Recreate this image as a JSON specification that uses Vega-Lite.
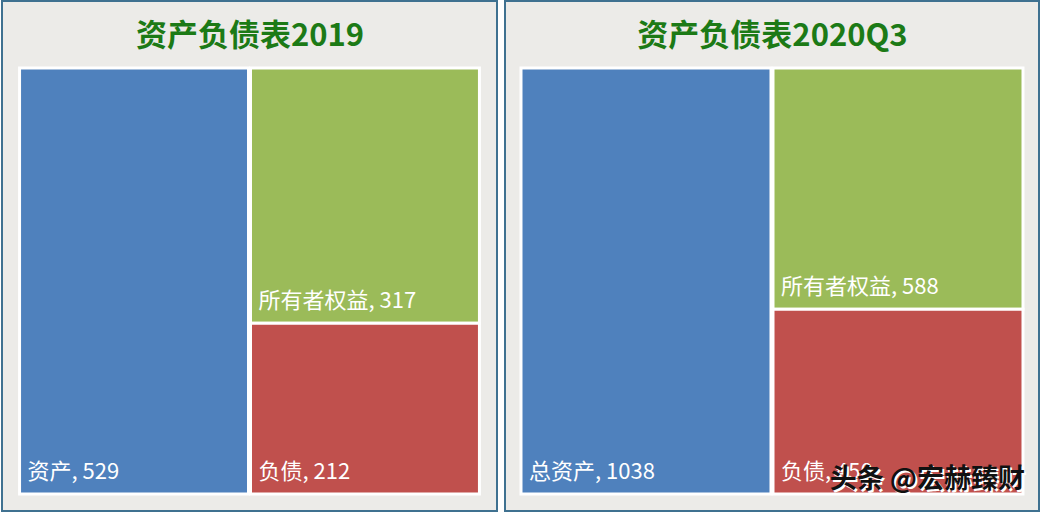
{
  "$schema": "https://vega.github.io/schema/vega-lite/v6.json",
  "padding": {"left": 1, "top": 0, "right": 1, "bottom": 1},
  "background": "#ffffff",
  "config": {
    "view": {"fill": "#ecebe8", "stroke": "#3f7190", "strokeWidth": 2},
    "font": "Noto Sans CJK SC",
    "concat": {"spacing": 6}
  },
  "datasets": {
    "bs": [
      {"panel": "2019", "column": "资产", "name": "资产", "type": "资产", "value": 529},
      {"panel": "2019", "column": "负债和权益", "name": "所有者权益", "type": "所有者权益", "value": 317},
      {"panel": "2019", "column": "负债和权益", "name": "负债", "type": "负债", "value": 212},
      {"panel": "2020Q3", "column": "资产", "name": "总资产", "type": "资产", "value": 1038},
      {"panel": "2020Q3", "column": "负债和权益", "name": "所有者权益", "type": "所有者权益", "value": 588},
      {"panel": "2020Q3", "column": "负债和权益", "name": "负债", "type": "负债", "value": 450}
    ]
  },
  "hconcat": [
    {
      "width": 495,
      "height": 510,
      "data": {"name": "bs"},
      "transform": [
        {"filter": "datum.panel === '2019'"},
        {"stack": "value", "groupby": ["column"], "offset": "normalize", "sort": [{"field": "type", "order": "descending"}], "as": ["v0", "v1"]},
        {"calculate": "datum.name + ', ' + datum.value", "as": "label"}
      ],
      "encoding": {
        "x": {
          "field": "column", "type": "nominal", "sort": ["资产", "负债和权益"],
          "scale": {"paddingInner": 0.0087, "paddingOuter": 0.076},
          "axis": {"orient": "top", "labels": false, "ticks": false, "domain": false, "grid": false, "title": "资产负债表2019", "titleFontSize": 31, "titleFontWeight": "bold", "titleColor": "#1c7a16", "titleFont": "Noto Sans CJK SC", "titleBaseline": "middle", "titleAnchor": "middle", "titleY": 35, "titlePadding": 0}
        }
      },
      "layer": [
        {
          "mark": {"type": "bar", "stroke": "white", "strokeWidth": 3},
          "encoding": {
            "y": {"field": "v0", "type": "quantitative", "axis": null, "scale": {"domain": [-0.0399, 1.1573], "nice": false, "zero": false}},
            "y2": {"field": "v1"},
            "color": {"field": "type", "type": "nominal", "legend": null, "scale": {"domain": ["资产", "所有者权益", "负债"], "range": ["#4f81bd", "#9bbb59", "#c0504d"]}}
          }
        },
        {
          "mark": {"type": "text", "align": "left", "baseline": "alphabetic", "dx": 8, "dy": -15, "fontSize": 22, "color": "white"},
          "encoding": {
            "x": {"field": "column", "type": "nominal", "bandPosition": 0},
            "y": {"field": "v0", "type": "quantitative"},
            "text": {"field": "label"}
          }
        }
      ]
    },
    {
      "width": 534,
      "height": 510,
      "data": {"name": "bs"},
      "transform": [
        {"filter": "datum.panel === '2020Q3'"},
        {"stack": "value", "groupby": ["column"], "offset": "normalize", "sort": [{"field": "type", "order": "descending"}], "as": ["v0", "v1"]},
        {"calculate": "datum.name + ', ' + datum.value", "as": "label"}
      ],
      "encoding": {
        "x": {
          "field": "column", "type": "nominal", "sort": ["资产", "负债和权益"],
          "scale": {"paddingInner": 0.008, "paddingOuter": 0.0635},
          "axis": {"orient": "top", "labels": false, "ticks": false, "domain": false, "grid": false, "title": "资产负债表2020Q3", "titleFontSize": 31, "titleFontWeight": "bold", "titleColor": "#1c7a16", "titleFont": "Noto Sans CJK SC", "titleBaseline": "middle", "titleAnchor": "middle", "titleY": 35, "titlePadding": 0}
        }
      },
      "layer": [
        {
          "mark": {"type": "bar", "stroke": "white", "strokeWidth": 3},
          "encoding": {
            "y": {"field": "v0", "type": "quantitative", "axis": null, "scale": {"domain": [-0.0399, 1.1573], "nice": false, "zero": false}},
            "y2": {"field": "v1"},
            "color": {"field": "type", "type": "nominal", "legend": null, "scale": {"domain": ["资产", "所有者权益", "负债"], "range": ["#4f81bd", "#9bbb59", "#c0504d"]}}
          }
        },
        {
          "mark": {"type": "text", "align": "left", "baseline": "alphabetic", "dx": 8, "dy": -15, "fontSize": 22, "color": "white"},
          "encoding": {
            "x": {"field": "column", "type": "nominal", "bandPosition": 0},
            "y": {"field": "v0", "type": "quantitative"},
            "text": {"field": "label"}
          }
        },
        {
          "transform": [{"filter": "datum.type === '负债'"}],
          "mark": {"type": "text", "align": "right", "baseline": "alphabetic", "dx": 4, "dy": -4, "fontSize": 27, "fontWeight": "bold", "color": "white"},
          "encoding": {
            "x": {"field": "column", "type": "nominal", "bandPosition": 1},
            "y": {"field": "v0", "type": "quantitative"},
            "text": {"value": "头条 @宏赫臻财"}
          }
        },
        {
          "transform": [{"filter": "datum.type === '负债'"}],
          "mark": {"type": "text", "align": "right", "baseline": "alphabetic", "dx": 2, "dy": -6, "fontSize": 27, "fontWeight": "bold", "color": "#111111"},
          "encoding": {
            "x": {"field": "column", "type": "nominal", "bandPosition": 1},
            "y": {"field": "v0", "type": "quantitative"},
            "text": {"value": "头条 @宏赫臻财"}
          }
        }
      ]
    }
  ]
}
